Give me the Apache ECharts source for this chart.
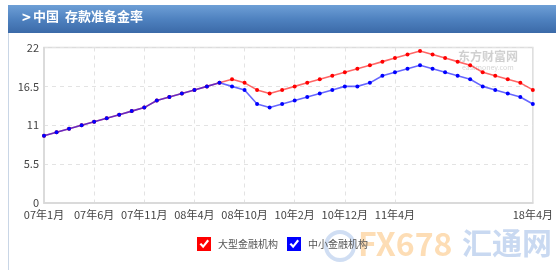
<!DOCTYPE html>
<html>
<head>
<meta charset="utf-8">
<script src="https://cdn.jsdelivr.net/npm/echarts@6/dist/echarts.min.js"></script>
<style>html,body{margin:0;padding:0;background:#fff;}#c{width:556px;height:270px;}</style>
</head>
<body>
<div id="c"></div>
<script>
const categories = ['07年1月','07年2月','07年4月','07年5月','07年6月','07年8月','07年9月','07年10月','07年11月','07年12月',
  '08年1月','08年3月','08年4月','08年5月','08年6月','08年9月','08年10月','08年12月','08年12月','10年1月',
  '10年2月','10年5月','10年11月','10年11月','10年12月','11年1月','11年2月','11年3月','11年4月','11年5月',
  '11年6月','11年12月','12年2月','12年5月','15年2月','15年4月','15年9月','15年10月','16年3月','18年4月'];
const largeInst = [9.5,10,10.5,11,11.5,12,12.5,13,13.5,14.5,15,15.5,16,16.5,17,17.5,17,16,15.5,16,
  16.5,17,17.5,18,18.5,19,19.5,20,20.5,21,21.5,21,20.5,20,19.5,18.5,18,17.5,17,16];
const smallInst = [9.5,10,10.5,11,11.5,12,12.5,13,13.5,14.5,15,15.5,16,16.5,17,16.5,16,14,13.5,14,
  14.5,15,15.5,16,16.5,16.5,17,18,18.5,19,19.5,19,18.5,18,17.5,16.5,16,15.5,15,14];
const yTicks = [0, 5.5, 11, 16.5, 22];
const seriesNames = ['大型金融机构','中小金融机构'];
const shownIdx = [0,4,8,12,16,20,24,28,39];

const checkIcon = 'path://M0 0 L100 0 L100 100 L0 100 Z M44 80 L86 28 L74 18 L44 58 L30 42 L18 52 Z';
const font = '"Noto Sans CJK SC", "Noto Sans", sans-serif';

const chart = echarts.init(document.getElementById('c'), null, {renderer:'canvas'});
chart.setOption({
  animation: false,
  textStyle: {fontFamily: font},
  graphic: [
    {type:'rect', shape:{x:8, y:5, width:548, height:28},
     style:{fill:{type:'linear', x:0, y:0, x2:0, y2:1, colorStops:[{offset:0,color:'#6e9fd6'},{offset:0.5,color:'#4f82c0'},{offset:1,color:'#3b6aa8'}]}}},
    {type:'rect', shape:{x:8, y:33, width:1, height:237}, style:{fill:'#c9d6e6'}},
    {type:'text', left:22, top:10, style:{text:'>', fill:'#fff', font:'bold 15px ' + font}},
    {type:'text', left:33, top:10, style:{text:'中国  存款准备金率', fill:'#fff', font:'bold 13px ' + font}},
    {type:'text', left:458, top:50, style:{text:'东方财富网', fill:'rgba(150,150,150,0.45)', font:'bold 12px ' + font}},
    {type:'text', left:462, top:64, style:{text:'eastmoney.com', fill:'rgba(150,150,150,0.4)', font:'7px ' + font}},
    {type:'circle', shape:{cx:340, cy:246, r:14}, style:{fill:'none', stroke:'rgba(120,160,220,0.35)', lineWidth:4}},
    {type:'text', left:358, top:228, style:{text:'FX678', fill:'rgba(250,180,90,0.45)', font:'bold 32px ' + font}},
    {type:'text', left:462, top:228, style:{text:'汇通网', fill:'rgba(120,160,220,0.4)', font:'bold 30px ' + font}}
  ],
  legend: {
    data: seriesNames,
    top: 232, left: 192,
    itemWidth: 14, itemHeight: 14, itemGap: 9,
    icon: checkIcon,
    textStyle: {color:'#555', fontSize:10, fontFamily: font, padding:[0,0,0,2]}
  },
  grid: {left:44, right:22, top:47.5, bottom:67, show:true, borderColor:'#dcdcdc', borderWidth:1.5, containLabel:false},
  xAxis: {
    type:'category', data: categories, boundaryGap:false,
    axisLine:{lineStyle:{color:'#d8d8d8', width:1.5}},
    axisTick:{show:false},
    axisLabel:{color:'#444', fontSize:11, margin:6, interval:(i)=>shownIdx.indexOf(i) >= 0, fontFamily: font},
    splitLine:{show:true, interval:(i)=>i>0 && i<=28 && i%4===0, lineStyle:{color:'#e3e3e3', type:[4,4]}}
  },
  yAxis: {
    type:'value', min:0, max:22, interval:5.5,
    axisLine:{show:true, lineStyle:{color:'#d8d8d8', width:1.5}},
    axisTick:{show:false},
    axisLabel:{color:'#444', fontSize:11, margin:5, fontFamily: font, formatter:(v)=> yTicks.indexOf(v)>=0 ? String(v) : ''},
    splitLine:{show:true, lineStyle:{color:'#e3e3e3', type:[4,4]}}
  },
  series: [
    {name: seriesNames[0], type:'line', data: largeInst, symbol:'circle', symbolSize:4, showAllSymbol:true,
     itemStyle:{color:'#ff0000'}, lineStyle:{color:'rgba(255,0,0,0.6)', width:1.6}},
    {name: seriesNames[1], type:'line', data: smallInst, symbol:'circle', symbolSize:4, showAllSymbol:true,
     itemStyle:{color:'#0000ff'}, lineStyle:{color:'rgba(0,0,255,0.6)', width:1.6}}
  ]
});
</script>
</body>
</html>
